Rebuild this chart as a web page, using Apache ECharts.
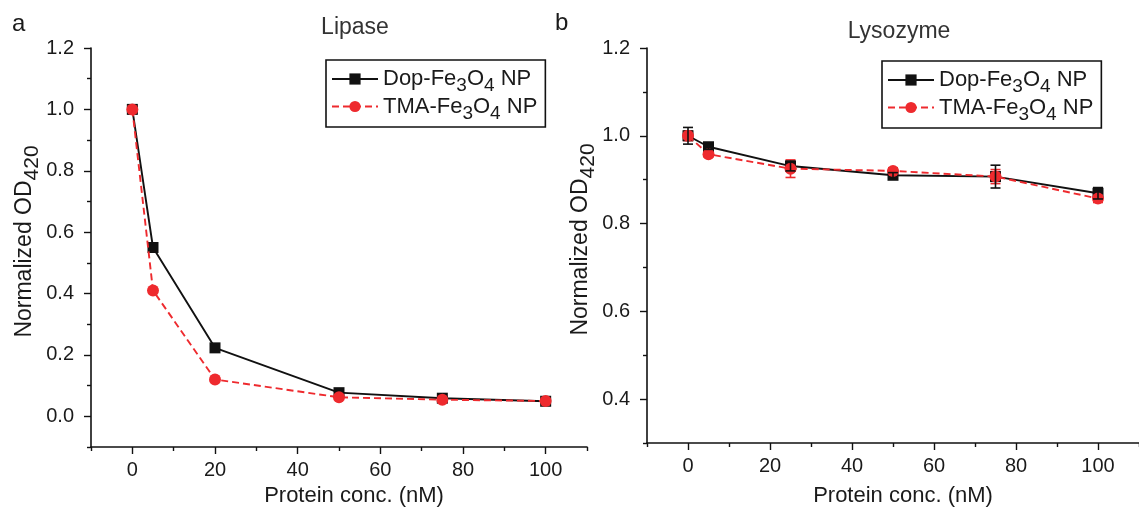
<!DOCTYPE html>
<html>
<head>
<meta charset="utf-8">
<script src="https://cdn.jsdelivr.net/npm/echarts@6/dist/echarts.min.js"></script>
<style>
  html, body { margin: 0; padding: 0; background: #fff; }
  #chart { width: 1139px; height: 512px; }
</style>
</head>
<body>
<div id="chart"></div>
<script>
// panel a - Lipase
const lipaseX = [0, 5, 20, 50, 75, 100];
const lipaseDop = [1.0, 0.55, 0.223, 0.077, 0.059, 0.049];
const lipaseDopErr = [0.01, 0.006, 0.006, 0.005, 0.005, 0.004];
const lipaseTma = [1.0, 0.41, 0.12, 0.062, 0.054, 0.05];
const lipaseTmaErr = [0.012, 0.005, 0.005, 0.004, 0.004, 0.006];

// panel b - Lysozyme
const lysoX = [0, 5, 25, 50, 75, 100];
const lysoDop = [1.0, 0.975, 0.931, 0.91, 0.907, 0.869];
const lysoDopErr = [0.019, 0.006, 0.011, 0.006, 0.026, 0.013];
const lysoTma = [1.0, 0.958, 0.925, 0.92, 0.907, 0.857];
const lysoTmaErr = [0.011, 0.006, 0.02, 0.007, 0.016, 0.009];

const seriesNames = ['Dop-Fe3O4 NP', 'TMA-Fe3O4 NP'];

// ticks
const xMajor = [0, 20, 40, 60, 80, 100];
const xMinor = [-10, 10, 30, 50, 70, 90, 110];
const lipaseYMajor = [0.0, 0.2, 0.4, 0.6, 0.8, 1.0, 1.2];
const lipaseYMinor = [-0.1, 0.1, 0.3, 0.5, 0.7, 0.9, 1.1];
const lysoYMajor = [0.4, 0.6, 0.8, 1.0, 1.2];
const lysoYMinor = [0.3, 0.5, 0.7, 0.9, 1.1];

const BLACK = '#111111';
const RED = '#ee2a2e';
const TXT = '#1a1a1a';
const FONT = 'Liberation Sans, Arial, sans-serif';

const chart = echarts.init(document.getElementById('chart'));

const axisLine = { show: true, onZero: false, lineStyle: { color: BLACK, width: 1.6 } };

function xAxes(gridIndex, nameGap, namePad) {
  return [
    {
      type: 'value', gridIndex: gridIndex, min: -10, max: 110,
      position: 'bottom',
      axisLine: axisLine,
      splitLine: { show: false },
      axisTick: { show: true, customValues: xMajor, length: 7, lineStyle: { color: BLACK, width: 1.4 } },
      axisLabel: { show: true, customValues: xMajor, margin: 13, fontSize: 20, color: TXT, fontFamily: FONT },
      name: 'Protein conc. (nM)',
      nameLocation: 'middle',
      nameGap: nameGap,
      nameTextStyle: { fontSize: 22, color: TXT, fontFamily: FONT, padding: namePad }
    },
    {
      type: 'value', gridIndex: gridIndex, min: -10, max: 110,
      position: 'bottom',
      axisLine: { show: false, onZero: false },
      splitLine: { show: false },
      axisTick: { show: true, customValues: xMinor, length: 4, lineStyle: { color: BLACK, width: 1.4 } },
      axisLabel: { show: false }
    }
  ];
}

function yAxes(gridIndex, min, max, major, minor, nameGap) {
  return [
    {
      type: 'value', gridIndex: gridIndex, min: min, max: max,
      position: 'left',
      axisLine: axisLine,
      splitLine: { show: false },
      axisTick: { show: true, customValues: major, length: 7, lineStyle: { color: BLACK, width: 1.4 } },
      axisLabel: {
        show: true, customValues: major, margin: 17, fontSize: 20, color: TXT, fontFamily: FONT,
        formatter: v => v.toFixed(1)
      },
      name: 'Normalized OD{s|420}',
      nameLocation: 'middle',
      nameRotate: 90,
      nameGap: nameGap,
      nameTextStyle: {
        fontSize: 23, color: TXT, fontFamily: FONT, padding: [0, 0, 0, 12],
        rich: { s: { fontSize: 21, color: TXT, fontFamily: FONT, padding: [15, 0, 0, 0] } }
      }
    },
    {
      type: 'value', gridIndex: gridIndex, min: min, max: max,
      position: 'left',
      axisLine: { show: false, onZero: false },
      splitLine: { show: false },
      axisTick: { show: true, customValues: minor, length: 4, lineStyle: { color: BLACK, width: 1.4 } },
      axisLabel: { show: false }
    }
  ];
}

function lineSeries(name, x, y, axisIdx, isDop) {
  return {
    name: name,
    type: 'line',
    xAxisIndex: axisIdx, yAxisIndex: axisIdx,
    data: x.map((v, i) => [v, y[i]]),
    symbol: isDop ? 'rect' : 'circle',
    symbolSize: isDop ? 11 : 12,
    itemStyle: { color: isDop ? BLACK : RED },
    lineStyle: { color: isDop ? BLACK : RED, width: 1.9, type: isDop ? 'solid' : [7, 4] },
    z: isDop ? 3 : 4,
    animation: false
  };
}

function errSeries(x, y, err, axisIdx, color, z) {
  return {
    type: 'custom',
    xAxisIndex: axisIdx, yAxisIndex: axisIdx,
    data: x.map((v, i) => [v, y[i] - err[i], y[i] + err[i]]),
    encode: { x: 0, y: [1, 2] },
    silent: true,
    z: z,
    animation: false,
    renderItem: (params, api) => {
      const lo = api.coord([api.value(0), api.value(1)]);
      const hi = api.coord([api.value(0), api.value(2)]);
      const w = 5;
      const st = { stroke: color, lineWidth: 1.6 };
      return {
        type: 'group',
        children: [
          { type: 'line', shape: { x1: lo[0], y1: lo[1], x2: hi[0], y2: hi[1] }, style: st },
          { type: 'line', shape: { x1: lo[0] - w, y1: lo[1], x2: lo[0] + w, y2: lo[1] }, style: st },
          { type: 'line', shape: { x1: hi[0] - w, y1: hi[1], x2: hi[0] + w, y2: hi[1] }, style: st }
        ]
      };
    }
  };
}

function legend(left, top) {
  return {
    data: seriesNames,
    orient: 'vertical',
    left: left, top: top,
    itemWidth: 46, itemHeight: 14, itemGap: 0,
    padding: [8, 8, 4, 5],
    borderColor: BLACK, borderWidth: 1.6,
    backgroundColor: '#fff',
    selectedMode: false,
    formatter: n => n.replace('Fe3O4', 'Fe{s|3}O{s|4}'),
    textStyle: {
      fontSize: 22, color: TXT, fontFamily: FONT,
      rich: { s: { fontSize: 19, color: TXT, fontFamily: FONT, padding: [14, 0, 0, 0] } }
    }
  };
}

const option = {
  backgroundColor: '#fff',
  animation: false,
  textStyle: { fontFamily: FONT },
  grid: [
    { left: 91, top: 48, width: 496, height: 400 },
    { left: 647, top: 48, width: 496, height: 400 }
  ],
  xAxis: [].concat(xAxes(0, 38, [0, 0, 0, 30]), xAxes(1, 42, [0, 0, 0, 20])),
  yAxis: [].concat(
    yAxes(0, -0.1, 1.2, lipaseYMajor, lipaseYMinor, 46),
    yAxes(1, 0.3, 1.2, lysoYMajor, lysoYMinor, 44)
  ),
  legend: [legend(326, 60), legend(882, 61)],
  graphic: [
    { type: 'text', left: 12, top: 12, style: { text: 'a', fontSize: 24, fill: TXT, fontFamily: FONT } },
    { type: 'text', left: 555, top: 11, style: { text: 'b', fontSize: 24, fill: TXT, fontFamily: FONT } },
    { type: 'text', x: 355, y: 28, style: { text: 'Lipase', fontSize: 23, fill: '#333', fontFamily: FONT, align: 'center', verticalAlign: 'middle' } },
    { type: 'text', x: 899, y: 32, style: { text: 'Lysozyme', fontSize: 23, fill: '#333', fontFamily: FONT, align: 'center', verticalAlign: 'middle' } }
  ],
  series: [
    errSeries(lipaseX, lipaseDop, lipaseDopErr, 0, BLACK, 2),
    errSeries(lipaseX, lipaseTma, lipaseTmaErr, 0, RED, 2),
    lineSeries(seriesNames[0], lipaseX, lipaseDop, 0, true),
    lineSeries(seriesNames[1], lipaseX, lipaseTma, 0, false),
    errSeries(lysoX, lysoDop, lysoDopErr, 2, BLACK, 5),
    errSeries(lysoX, lysoTma, lysoTmaErr, 2, RED, 2),
    lineSeries(seriesNames[0], lysoX, lysoDop, 2, true),
    lineSeries(seriesNames[1], lysoX, lysoTma, 2, false)
  ]
};

chart.setOption(option);
</script>
</body>
</html>
